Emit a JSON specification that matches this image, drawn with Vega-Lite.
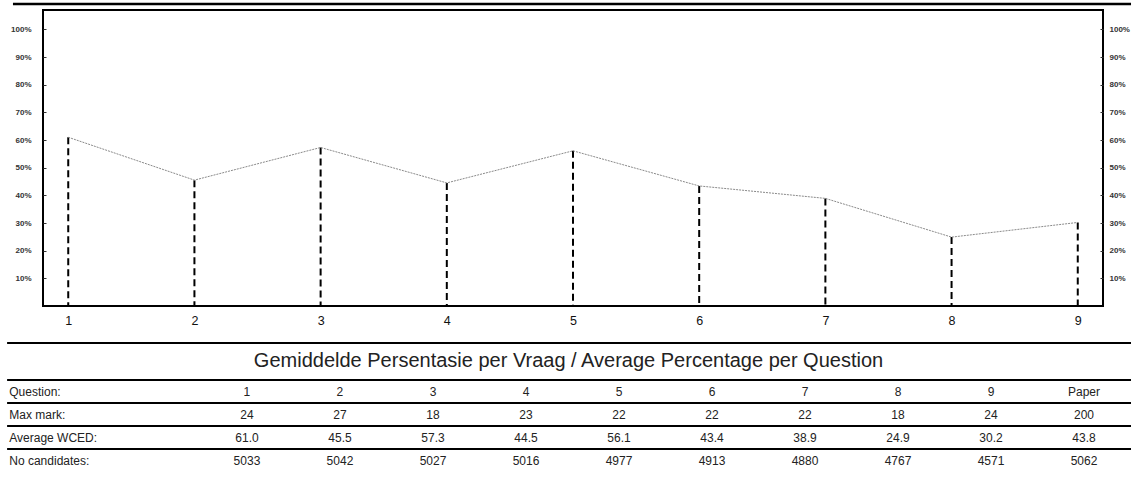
{
  "$schema": "https://vega.github.io/schema/vega-lite/v6.json",
  "background": "white",
  "padding": {"left": 5, "top": 1, "right": 0, "bottom": 0},
  "spacing": 14,
  "config": {
    "view": {"stroke": null},
    "font": "Liberation Sans",
    "text": {"font": "Liberation Sans"}
  },
  "datasets": {
    "scores": [
      {"question": 1, "pct": 61.0},
      {"question": 2, "pct": 45.5},
      {"question": 3, "pct": 57.3},
      {"question": 4, "pct": 44.5},
      {"question": 5, "pct": 56.1},
      {"question": 6, "pct": 43.4},
      {"question": 7, "pct": 38.9},
      {"question": 8, "pct": 24.9},
      {"question": 9, "pct": 30.2}
    ],
    "rowlabels": [
      {"row": "Question:"},
      {"row": "Max mark:"},
      {"row": "Average WCED:"},
      {"row": "No candidates:"}
    ],
    "table": [
      {"row": "Question:", "col": "1", "text": "1"},
      {"row": "Question:", "col": "2", "text": "2"},
      {"row": "Question:", "col": "3", "text": "3"},
      {"row": "Question:", "col": "4", "text": "4"},
      {"row": "Question:", "col": "5", "text": "5"},
      {"row": "Question:", "col": "6", "text": "6"},
      {"row": "Question:", "col": "7", "text": "7"},
      {"row": "Question:", "col": "8", "text": "8"},
      {"row": "Question:", "col": "9", "text": "9"},
      {"row": "Question:", "col": "Paper", "text": "Paper"},
      {"row": "Max mark:", "col": "1", "text": "24"},
      {"row": "Max mark:", "col": "2", "text": "27"},
      {"row": "Max mark:", "col": "3", "text": "18"},
      {"row": "Max mark:", "col": "4", "text": "23"},
      {"row": "Max mark:", "col": "5", "text": "22"},
      {"row": "Max mark:", "col": "6", "text": "22"},
      {"row": "Max mark:", "col": "7", "text": "22"},
      {"row": "Max mark:", "col": "8", "text": "18"},
      {"row": "Max mark:", "col": "9", "text": "24"},
      {"row": "Max mark:", "col": "Paper", "text": "200"},
      {"row": "Average WCED:", "col": "1", "text": "61.0"},
      {"row": "Average WCED:", "col": "2", "text": "45.5"},
      {"row": "Average WCED:", "col": "3", "text": "57.3"},
      {"row": "Average WCED:", "col": "4", "text": "44.5"},
      {"row": "Average WCED:", "col": "5", "text": "56.1"},
      {"row": "Average WCED:", "col": "6", "text": "43.4"},
      {"row": "Average WCED:", "col": "7", "text": "38.9"},
      {"row": "Average WCED:", "col": "8", "text": "24.9"},
      {"row": "Average WCED:", "col": "9", "text": "30.2"},
      {"row": "Average WCED:", "col": "Paper", "text": "43.8"},
      {"row": "No candidates:", "col": "1", "text": "5033"},
      {"row": "No candidates:", "col": "2", "text": "5042"},
      {"row": "No candidates:", "col": "3", "text": "5027"},
      {"row": "No candidates:", "col": "4", "text": "5016"},
      {"row": "No candidates:", "col": "5", "text": "4977"},
      {"row": "No candidates:", "col": "6", "text": "4913"},
      {"row": "No candidates:", "col": "7", "text": "4880"},
      {"row": "No candidates:", "col": "8", "text": "4767"},
      {"row": "No candidates:", "col": "9", "text": "4571"},
      {"row": "No candidates:", "col": "Paper", "text": "5062"}
    ]
  },
  "vconcat": [
    {
      "width": 1060,
      "height": 296,
      "view": {"stroke": "black", "strokeWidth": 2},
      "layer": [
        {
          "data": {"name": "scores"},
          "mark": {"type": "rule", "color": "black", "strokeWidth": 2, "strokeDash": [7, 4]},
          "encoding": {
            "x": {
              "field": "question", "type": "quantitative",
              "scale": {"domain": [0.8, 9.2], "nice": false, "zero": false},
              "axis": {"orient": "bottom", "values": [1, 2, 3, 4, 5, 6, 7, 8, 9], "ticks": false, "domain": false, "grid": false, "title": null, "labelFontSize": 12.5, "labelColor": "#111", "labelPadding": 8, "labelFont": "Liberation Sans"}
            },
            "y": {
              "field": "pct", "type": "quantitative",
              "scale": {"domain": [0, 107], "nice": false},
              "axis": {"orient": "left", "values": [10, 20, 30, 40, 50, 60, 70, 80, 90, 100], "labelExpr": "datum.value + '%'", "tickSize": -3, "tickColor": "#333", "labelPadding": 15, "minExtent": 37, "grid": false, "title": null, "domain": false, "labelFontSize": 8, "labelFontWeight": "bold", "labelColor": "#333", "labelFont": "Liberation Sans"}
            },
            "y2": {"datum": 0}
          }
        },
        {
          "data": {"name": "scores"},
          "mark": {"type": "line", "color": "#8a8a8a", "strokeWidth": 1, "strokeDash": [2, 1]},
          "encoding": {
            "x": {"field": "question", "type": "quantitative", "axis": null},
            "y": {
              "field": "pct", "type": "quantitative",
              "axis": {"orient": "right", "values": [10, 20, 30, 40, 50, 60, 70, 80, 90, 100], "labelExpr": "datum.value + '%'", "tickSize": -3, "tickColor": "#333", "labelPadding": 9, "grid": false, "title": null, "domain": false, "labelFontSize": 8, "labelFontWeight": "bold", "labelColor": "#333", "labelFont": "Liberation Sans"}
            }
          }
        },
        {
          "data": {"values": [{}]},
          "mark": {"type": "rule", "color": "black", "strokeWidth": 2.5},
          "encoding": {
            "x": {"datum": 0.562, "type": "quantitative", "axis": null},
            "x2": {"datum": 9.422},
            "y": {"datum": 109.2, "type": "quantitative", "axis": null}
          }
        }
      ],
      "resolve": {"axis": {"y": "independent", "x": "independent"}}
    },
    {
      "spacing": 0,
      "vconcat": [
        {
          "width": 1088,
          "height": 36,
          "data": {"values": [{"heading": "Gemiddelde Persentasie per Vraag / Average Percentage per Question"}]},
          "layer": [
            {
              "mark": {"type": "rule", "color": "black", "strokeWidth": 2},
              "encoding": {
                "x": {"datum": -0.033, "type": "quantitative", "scale": {"domain": [0, 1]}, "axis": null},
                "x2": {"datum": 1},
                "y": {"field": "heading", "type": "nominal", "bandPosition": 0, "scale": {"type": "band", "paddingInner": 0, "paddingOuter": 0}, "axis": null}
              }
            },
            {
              "mark": {"type": "text", "fontSize": 20, "color": "#222", "font": "Liberation Sans"},
              "encoding": {
                "text": {"field": "heading"},
                "x": {"datum": 0.483, "type": "quantitative", "axis": null},
                "y": {"field": "heading", "type": "nominal", "axis": null}
              }
            }
          ]
        },
        {
          "width": 1088,
          "height": 92,
          "layer": [
            {
              "data": {"name": "rowlabels"},
              "mark": {"type": "rule", "color": "black", "strokeWidth": 2},
              "encoding": {
                "x": {"datum": -0.033, "type": "quantitative", "scale": {"domain": [0, 1]}, "axis": null},
                "x2": {"datum": 1},
                "y": {
                  "field": "row", "type": "nominal", "bandPosition": 0,
                  "scale": {"type": "band", "domain": ["Question:", "Max mark:", "Average WCED:", "No candidates:"], "paddingInner": 0, "paddingOuter": 0},
                  "axis": null
                }
              }
            },
            {
              "data": {"name": "rowlabels"},
              "mark": {"type": "text", "align": "left", "fontSize": 12, "color": "#222"},
              "encoding": {
                "x": {"datum": -0.031, "type": "quantitative", "scale": {"domain": [0, 1]}, "axis": null},
                "y": {"field": "row", "type": "nominal", "axis": null},
                "text": {"field": "row"}
              }
            },
            {
              "data": {"name": "table"},
              "mark": {"type": "text", "fontSize": 12, "color": "#222"},
              "encoding": {
                "x": {
                  "field": "col", "type": "nominal",
                  "scale": {"type": "band", "domain": ["1", "2", "3", "4", "5", "6", "7", "8", "9", "Paper"], "paddingInner": 0, "paddingOuter": 0.849, "align": 0.997},
                  "axis": null
                },
                "y": {"field": "row", "type": "nominal", "axis": null},
                "text": {"field": "text"}
              }
            }
          ],
          "resolve": {"scale": {"x": "independent"}}
        }
      ]
    }
  ]
}
